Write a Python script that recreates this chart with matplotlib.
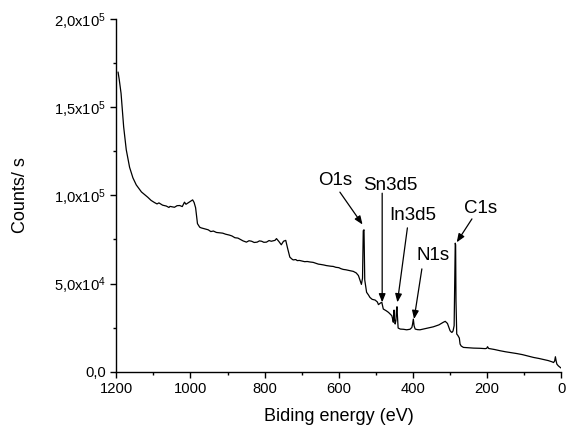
import matplotlib
matplotlib.use("Agg")
import matplotlib.pyplot as plt
from matplotlib.ticker import MultipleLocator, FuncFormatter
import numpy as np

plt.rcParams['font.family'] = ['Liberation Sans', 'DejaVu Sans']
plt.rcParams['mathtext.default'] = 'regular'

# Binding energy (eV) and counts (x1e4)
energy = [1195, 1192, 1187, 1180, 1173, 1164, 1155, 1146, 1132, 1115, 1106, 1097, 1090, 1085, 1075,
          1065, 1058, 1055, 1043, 1036, 1029, 1022, 1016, 1012, 1005, 998, 994, 990, 986, 981,
          975, 971, 960, 952, 945, 938, 930, 913, 905, 895, 888, 880, 872, 865, 858, 849, 842, 835, 828, 820, 814, 808, 802, 795, 788, 782, 772,
          768, 762, 755, 749, 743, 738, 732, 727, 723, 716, 712, 706, 700, 692, 685, 677, 669, 662, 655, 648, 640, 634, 628,
          621, 615, 608, 600, 594, 588, 581, 575, 568, 561, 553, 547, 543, 539, 536, 534, 532, 530, 527, 525, 520,
          516, 510, 502, 496, 493, 487, 484, 480, 472, 466, 461, 457, 455, 453, 452, 451,
          450, 448, 446, 444, 443, 442, 440, 434, 426, 417, 408, 403, 401, 399, 397, 394,
          388, 381, 370, 358, 345, 330, 318, 313, 307, 303, 300, 297, 295, 292, 289, 287,
          286, 285, 284, 282, 279, 277, 275, 273, 270, 264, 250, 237, 220, 205, 201, 199,
          196, 180, 165, 150, 135, 120, 105, 90, 75, 60, 45, 35, 25, 21, 18, 16, 14, 12,
          8, 4, 0]
counts_e4 = [17.0, 16.6, 15.8, 13.9, 12.6, 11.6, 11.0, 10.6, 10.2, 9.9, 9.72, 9.6, 9.52, 9.58, 9.45,
             9.4, 9.32, 9.38, 9.33, 9.42, 9.43, 9.37, 9.62, 9.5, 9.6, 9.7, 9.75, 9.6, 9.3, 8.4,
             8.2, 8.16, 8.1, 8.05, 7.95, 7.98, 7.9, 7.86, 7.8, 7.75, 7.7, 7.6, 7.58, 7.5, 7.42, 7.35, 7.43, 7.4, 7.33, 7.35, 7.42, 7.4, 7.34, 7.35, 7.44, 7.4, 7.45,
             7.55, 7.4, 7.2, 7.4, 7.45, 7.0, 6.5, 6.4, 6.34, 6.36, 6.3, 6.31, 6.28, 6.24, 6.25, 6.22, 6.2, 6.15, 6.1, 6.08, 6.05, 6.02, 6.0,
             5.98, 5.97, 5.92, 5.9, 5.84, 5.8, 5.78, 5.75, 5.72, 5.69, 5.6, 5.45, 5.2, 4.95, 5.3, 8.0, 8.05, 5.2, 4.8, 4.5, 4.35,
             4.21, 4.1, 4.06, 3.95, 3.8, 3.9, 3.93, 3.55, 3.45, 3.36, 3.25, 3.17, 3.0, 2.8, 3.2, 3.49,
             3.0, 2.7, 2.9, 3.6, 3.68, 3.2, 2.47, 2.41, 2.4, 2.37, 2.4, 2.5, 2.7, 2.98, 2.6, 2.41,
             2.38, 2.37, 2.42, 2.48, 2.54, 2.65, 2.8, 2.85, 2.73, 2.5, 2.32, 2.25, 2.22, 2.3, 2.6, 5.5,
             7.29, 7.2, 4.0, 2.13, 2.05, 1.97, 1.9, 1.56, 1.45, 1.37, 1.35, 1.33, 1.32, 1.3, 1.32, 1.41,
             1.31, 1.25, 1.18, 1.12, 1.07, 1.02, 0.96, 0.88, 0.80, 0.74, 0.67, 0.62, 0.55, 0.51, 0.6, 0.84, 0.6, 0.42,
             0.32, 0.25, 0.19]

# Peak labels: text, text centre (E, counts), arrow tail, arrow tip
peak_labels = ["O1s", "Sn3d5", "In3d5", "N1s", "C1s"]
label_pos = [(610, 1.085e5), (462, 1.057e5), (400, 0.886e5), (346, 0.659e5), (219, 0.926e5)]
arrow_tail = [(597, 1.019e5), (483, 1.013e5), (415, 0.816e5), (376, 0.583e5), (241, 0.867e5)]
arrow_tip = [(536, 0.835e5), (483, 0.393e5), (442, 0.393e5), (397, 0.298e5), (282, 0.734e5)]

fig = plt.figure(figsize=(5.67, 4.32), dpi=100)
ax = fig.add_axes([0.205, 0.140, 0.785, 0.815])

ax.plot(energy, np.array(counts_e4) * 1e4, color='black', lw=0.9)

ax.set_xlim(1200, 0)
ax.set_ylim(0, 2.0e5)
ax.spines['top'].set_visible(False)
ax.spines['right'].set_visible(False)
ax.spines['left'].set_linewidth(1.0)
ax.spines['bottom'].set_linewidth(1.0)

ax.xaxis.set_major_locator(MultipleLocator(200))
ax.xaxis.set_minor_locator(MultipleLocator(100))
ax.yaxis.set_major_locator(MultipleLocator(5e4))
ax.yaxis.set_minor_locator(MultipleLocator(2.5e4))


def yfmt(v, pos):
    if v <= 0:
        return "0,0" if abs(v) < 1 else ""
    e = int(np.floor(np.log10(v)))
    m = v / 10 ** e
    return ("%.1f" % m).replace('.', ',') + "x10$^{%d}$" % e


ax.yaxis.set_major_formatter(FuncFormatter(yfmt))
ax.tick_params(which='major', direction='out', length=4.3, width=1, labelsize=10.6, pad=3)
ax.tick_params(which='minor', direction='out', length=2.5, width=1)

ax.set_xlabel("Biding energy (eV)", fontsize=13, labelpad=9)
ax.set_ylabel("Counts/ s", fontsize=13, labelpad=18)

for lab, tp, tail, tip in zip(peak_labels, label_pos, arrow_tail, arrow_tip):
    ax.text(tp[0], tp[1], lab, fontsize=13.5, ha='center', va='center')
    ax.annotate('', xy=tip, xytext=tail,
                arrowprops=dict(arrowstyle='-|>,head_length=0.5,head_width=0.2',
                                color='black', lw=0.9, shrinkA=0, shrinkB=0))

fig.savefig("out.png", dpi=100)
